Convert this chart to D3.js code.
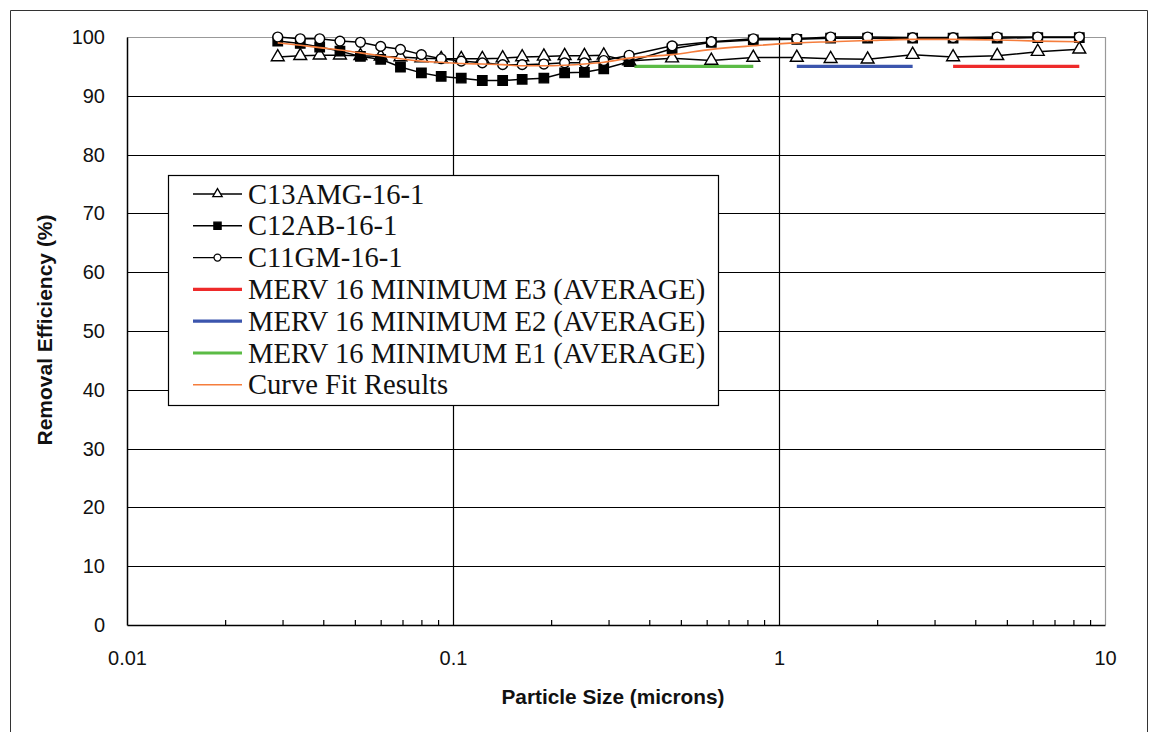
<!DOCTYPE html>
<html>
<head>
<meta charset="utf-8">
<script src="https://cdn.jsdelivr.net/npm/d3@7"></script>
<style>
  html, body { margin: 0; padding: 0; background: #fff; }
  svg { display: block; }
</style>
</head>
<body>
<svg id="chart" width="1149" height="732"></svg>
<script>
// ---- Data ----
const sizes = [0.029, 0.034, 0.039, 0.045, 0.052, 0.06, 0.069, 0.08, 0.092, 0.106,
               0.123, 0.142, 0.163, 0.19, 0.22, 0.253, 0.29, 0.347, 0.47, 0.62,
               0.834, 1.134, 1.44, 1.87, 2.57, 3.42, 4.67, 6.22, 8.34];

const c13amg = [96.6, 96.8, 96.9, 96.9, 96.8, 96.7, 96.6, 96.4, 96.3, 96.3,
                96.3, 96.4, 96.6, 96.7, 96.8, 96.8, 96.9, 95.9, 96.4, 96.0,
                96.5, 96.5, 96.3, 96.2, 97.0, 96.6, 96.8, 97.5, 97.9];

const c12ab = [99.3, 98.9, 98.3, 97.6, 96.7, 96.2, 94.9, 93.9, 93.3, 93.0,
               92.6, 92.6, 92.8, 93.0, 93.9, 94.0, 94.6, 95.8, 98.0, 99.1,
               99.5, 99.6, 99.8, 99.8, 99.8, 99.8, 99.8, 99.9, 99.9];

const c11gm = [100.0, 99.7, 99.7, 99.3, 99.1, 98.4, 97.9, 97.0, 96.3, 95.9,
               95.6, 95.3, 95.3, 95.4, 95.6, 95.6, 96.0, 96.9, 98.5, 99.2,
               99.7, 99.7, 100.0, 100.0, 99.9, 99.9, 100.0, 100.0, 100.0];

const curveFit = [99.0, 98.6, 98.2, 97.8, 97.3, 96.8, 96.3, 95.9, 95.7, 95.5,
                  95.4, 95.3, 95.1, 95.1, 95.2, 95.4, 95.7, 96.4, 97.0, 97.9,
                  98.5, 99.0, 99.2, 99.4, 99.6, 99.6, 99.5, 99.3, 99.2];

const mervE1 = [[0.36, 95], [0.834, 95]];
const mervE2 = [[1.134, 95], [2.57, 95]];
const mervE3 = [[3.42, 95], [8.34, 95]];

const xTickLabels = [0.01, 0.1, 1, 10];
const yTicks = [0, 10, 20, 30, 40, 50, 60, 70, 80, 90, 100];

const legendLabels = [
  "C13AMG-16-1",
  "C12AB-16-1",
  "C11GM-16-1",
  "MERV 16 MINIMUM E3 (AVERAGE)",
  "MERV 16 MINIMUM E2 (AVERAGE)",
  "MERV 16 MINIMUM E1 (AVERAGE)",
  "Curve Fit Results"
];

// ---- Layout ----
const svg = d3.select("#chart");
const L = 127, R = 1105, T = 37, B = 625;
const x = d3.scaleLog().domain([0.01, 10]).range([L, R]);
const y = d3.scaleLinear().domain([0, 100]).range([B, T]);

const sansFont = "'Liberation Sans', Arial, sans-serif";
const serifFont = "'Liberation Serif', 'Times New Roman', serif";

// outer chart border
svg.append("path")
  .attr("d", "M10.5,740 V10.5 H1147.5 V740")
  .attr("fill", "none").attr("stroke", "#333").attr("stroke-width", 1);

// plot area right border + top (grey)
svg.append("path")
  .attr("d", `M${L},${T + 0.5} H${R + 0.5} V${B}`)
  .attr("fill", "none").attr("stroke", "#999").attr("stroke-width", 1.2);

// horizontal grid
svg.append("g").selectAll("line")
  .data(yTicks.filter(v => v > 0 && v < 100))
  .join("line")
  .attr("x1", L).attr("x2", R)
  .attr("y1", d => Math.round(y(d)) + 0.5).attr("y2", d => Math.round(y(d)) + 0.5)
  .attr("stroke", "#000").attr("stroke-width", 1);

// vertical decade grid
svg.append("g").selectAll("line")
  .data([0.1, 1])
  .join("line")
  .attr("x1", d => Math.round(x(d)) + 0.5).attr("x2", d => Math.round(x(d)) + 0.5)
  .attr("y1", T).attr("y2", B)
  .attr("stroke", "#000").attr("stroke-width", 1.2);

// minor ticks on x axis (inward)
const minor = [];
[0.01, 0.1, 1].forEach(dec => { for (let k = 2; k <= 9; k++) minor.push(dec * k); });
svg.append("g")
  .attr("transform", `translate(0,${B})`)
  .call(d3.axisBottom(x).tickValues(minor).tickSize(-5).tickFormat(""))
  .call(g => g.select(".domain").remove())
  .call(g => g.selectAll("line").attr("stroke", "#000").attr("stroke-width", 1.2));

// x axis labels + baseline
const xAxis = svg.append("g")
  .attr("transform", `translate(0,${B})`)
  .call(d3.axisBottom(x).tickValues(xTickLabels).tickSize(0).tickPadding(26)
        .tickFormat(d => String(d)));
xAxis.select(".domain").attr("stroke", "#000").attr("stroke-width", 1.5);
xAxis.selectAll("text").attr("font-family", sansFont).attr("font-size", 20).attr("fill", "#111");

// y axis
const yAxis = svg.append("g")
  .attr("transform", `translate(${L},0)`)
  .call(d3.axisLeft(y).tickValues(yTicks).tickSize(0).tickPadding(22));
yAxis.select(".domain").attr("stroke", "#000").attr("stroke-width", 1.5);
yAxis.selectAll("text").attr("font-family", sansFont).attr("font-size", 20).attr("fill", "#111");

// axis titles
svg.append("text")
  .attr("x", 613).attr("y", 704)
  .attr("text-anchor", "middle")
  .attr("font-family", sansFont).attr("font-size", 20.8).attr("font-weight", "bold")
  .attr("fill", "#111")
  .text("Particle Size (microns)");

svg.append("text")
  .attr("transform", "translate(52,330) rotate(-90)")
  .attr("text-anchor", "middle")
  .attr("font-family", sansFont).attr("font-size", 21).attr("font-weight", "bold")
  .attr("fill", "#111")
  .text("Removal Efficiency (%)");

// ---- Series ----
const line = d3.line().x(d => x(d[0])).y(d => y(d[1]));
const zip = vals => sizes.map((s, i) => [s, vals[i]]);

const colors = { e3: "#ee2a2a", e2: "#3b55ad", e1: "#5bbb45", fit: "#f57d3c" };

// MERV lines
[[mervE1, colors.e1], [mervE2, colors.e2], [mervE3, colors.e3]].forEach(([d, c]) => {
  svg.append("path").datum(d).attr("d", line)
    .attr("fill", "none").attr("stroke", c).attr("stroke-width", 3.2);
});

const sym = {
  tri: d3.symbol(d3.symbolTriangle, 72),
  sq: d3.symbol(d3.symbolSquare, 88),
  circ: d3.symbol(d3.symbolCircle, 75)
};

function drawSeries(vals, shape, fill) {
  const data = zip(vals);
  svg.append("path").datum(data).attr("d", line)
    .attr("fill", "none").attr("stroke", "#000").attr("stroke-width", 1.5);
  svg.append("g").selectAll("path").data(data).join("path")
    .attr("transform", d => `translate(${x(d[0])},${y(d[1])})`)
    .attr("d", sym[shape]())
    .attr("fill", fill).attr("stroke", "#000").attr("stroke-width", 1.4);
}

drawSeries(c13amg, "tri", "#fff");
drawSeries(c12ab, "sq", "#000");
drawSeries(c11gm, "circ", "#fff");

// curve fit
svg.append("path").datum(zip(curveFit))
  .attr("d", d3.line().x(d => x(d[0])).y(d => y(d[1])).curve(d3.curveMonotoneX))
  .attr("fill", "none").attr("stroke", colors.fit).attr("stroke-width", 1.6);

// ---- Legend ----
const lg = svg.append("g");
lg.append("rect")
  .attr("x", 168.5).attr("y", 175.5).attr("width", 550).attr("height", 230)
  .attr("fill", "#fff").attr("stroke", "#000").attr("stroke-width", 1.2);

const legendStyles = [
  { color: "#000", w: 1.4, shape: "tri", fill: "#fff", size: 38 },
  { color: "#000", w: 1.4, shape: "sq", fill: "#000", size: 52 },
  { color: "#000", w: 1.4, shape: "circ", fill: "#fff", size: 38 },
  { color: colors.e3, w: 3.2 },
  { color: colors.e2, w: 3.2 },
  { color: colors.e1, w: 3.2 },
  { color: colors.fit, w: 1.6 }
];

legendLabels.forEach((lab, i) => {
  const cy = 194 + i * 31.8;
  const st = legendStyles[i];
  lg.append("line")
    .attr("x1", 193).attr("x2", 242).attr("y1", cy).attr("y2", cy)
    .attr("stroke", st.color).attr("stroke-width", st.w);
  if (st.shape) {
    const s = st.shape === "tri" ? d3.symbolTriangle : st.shape === "sq" ? d3.symbolSquare : d3.symbolCircle;
    lg.append("path")
      .attr("transform", `translate(217.5,${cy})`)
      .attr("d", d3.symbol(s, st.size)())
      .attr("fill", st.fill).attr("stroke", "#000").attr("stroke-width", 1.3);
  }
  lg.append("text")
    .attr("x", 248).attr("y", cy + 9.5)
    .attr("font-family", serifFont).attr("font-size", 28.6)
    .attr("fill", "#111")
    .text(lab);
});
</script>
</body>
</html>
